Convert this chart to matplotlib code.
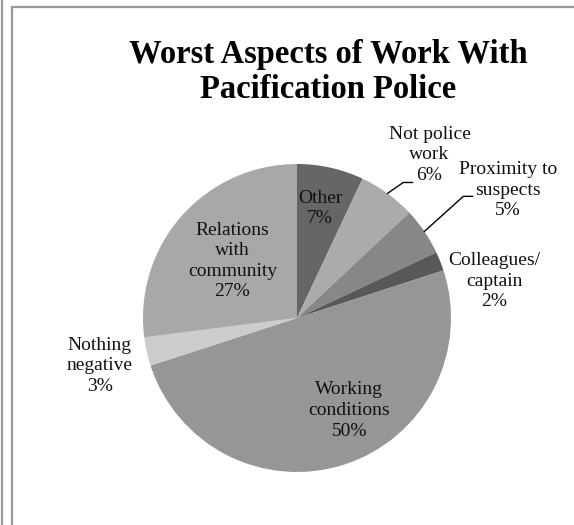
import matplotlib
matplotlib.use("Agg")
import matplotlib.pyplot as plt
from matplotlib.lines import Line2D
import numpy as np

# ---- data ----
categories = ["Other", "Not police\nwork", "Proximity to\nsuspects", "Colleagues/\ncaptain",
              "Working\nconditions", "Nothing\nnegative", "Relations\nwith\ncommunity"]
values = [7, 6, 5, 2, 50, 3, 27]
title_lines = ["Worst Aspects of Work With", "Pacification Police"]

# ---- style ----
colors = ["#666666", "#ababab", "#878787", "#585858", "#969696", "#cccccc", "#a8a8a8"]
FONT = ["Liberation Serif", "DejaVu Serif"]
W, H = 574, 525
fig = plt.figure(figsize=(W / 100, H / 100), dpi=100)
fig.patch.set_facecolor("white")

# frame lines
bc = "#9a9a9a"
lw = 1.6
fig.add_artist(Line2D([2 / W, 2 / W], [0, 1], transform=fig.transFigure, color=bc, lw=lw))
fig.add_artist(Line2D([12 / W, 12 / W], [0, 1 - 7 / H], transform=fig.transFigure, color=bc, lw=lw))
fig.add_artist(Line2D([12 / W, 1], [1 - 7 / H, 1 - 7 / H], transform=fig.transFigure, color=bc, lw=lw))

# pie axes: center (297,318) px, radius 154 px
cx, cy, r = 297, 318, 154
ax = fig.add_axes([(cx - r) / W, (H - cy - r) / H, 2 * r / W, 2 * r / H])
wedges, _ = ax.pie(values, colors=colors, startangle=90, counterclock=False,
                   radius=1, wedgeprops=dict(linewidth=0))
ax.set_xlim(-1, 1)
ax.set_ylim(-1, 1)
ax.set_aspect("equal")
ax.axis("off")

# label positions (in pie radius units relative to center)
label_pos = [(0.15, 0.71), (0.86, 1.06), (1.37, 0.83), (1.28, 0.24),
             (0.34, -0.60), (-1.28, -0.31), (-0.42, 0.37)]
for cat, v, (lx, ly) in zip(categories, values, label_pos):
    ax.text(lx, ly, f"{cat}\n{v}%", ha="center", va="center", fontsize=14,
            family=FONT, color="#111111", linespacing=1.28, clip_on=False)

# leader lines for two outside labels
def edge_point(w):
    th = np.deg2rad((w.theta1 + w.theta2) / 2)
    return np.cos(th), np.sin(th)

leaders = [(1, 0.69, 0.75, 0.88), (2, 1.08, 1.14, 0.79)]
for idx, kx, ex, ky in leaders:
    px, py = edge_point(wedges[idx])
    ax.add_line(Line2D([px, kx, ex], [py, ky, ky], color="black", lw=1.0, clip_on=False))

for line, base in zip(title_lines, [63, 98]):
    fig.text(328 / W, 1 - base / H, line, ha="center", va="baseline", fontsize=23.5,
             fontweight="bold", family=FONT, color="black")

fig.savefig("out.png", dpi=100)
